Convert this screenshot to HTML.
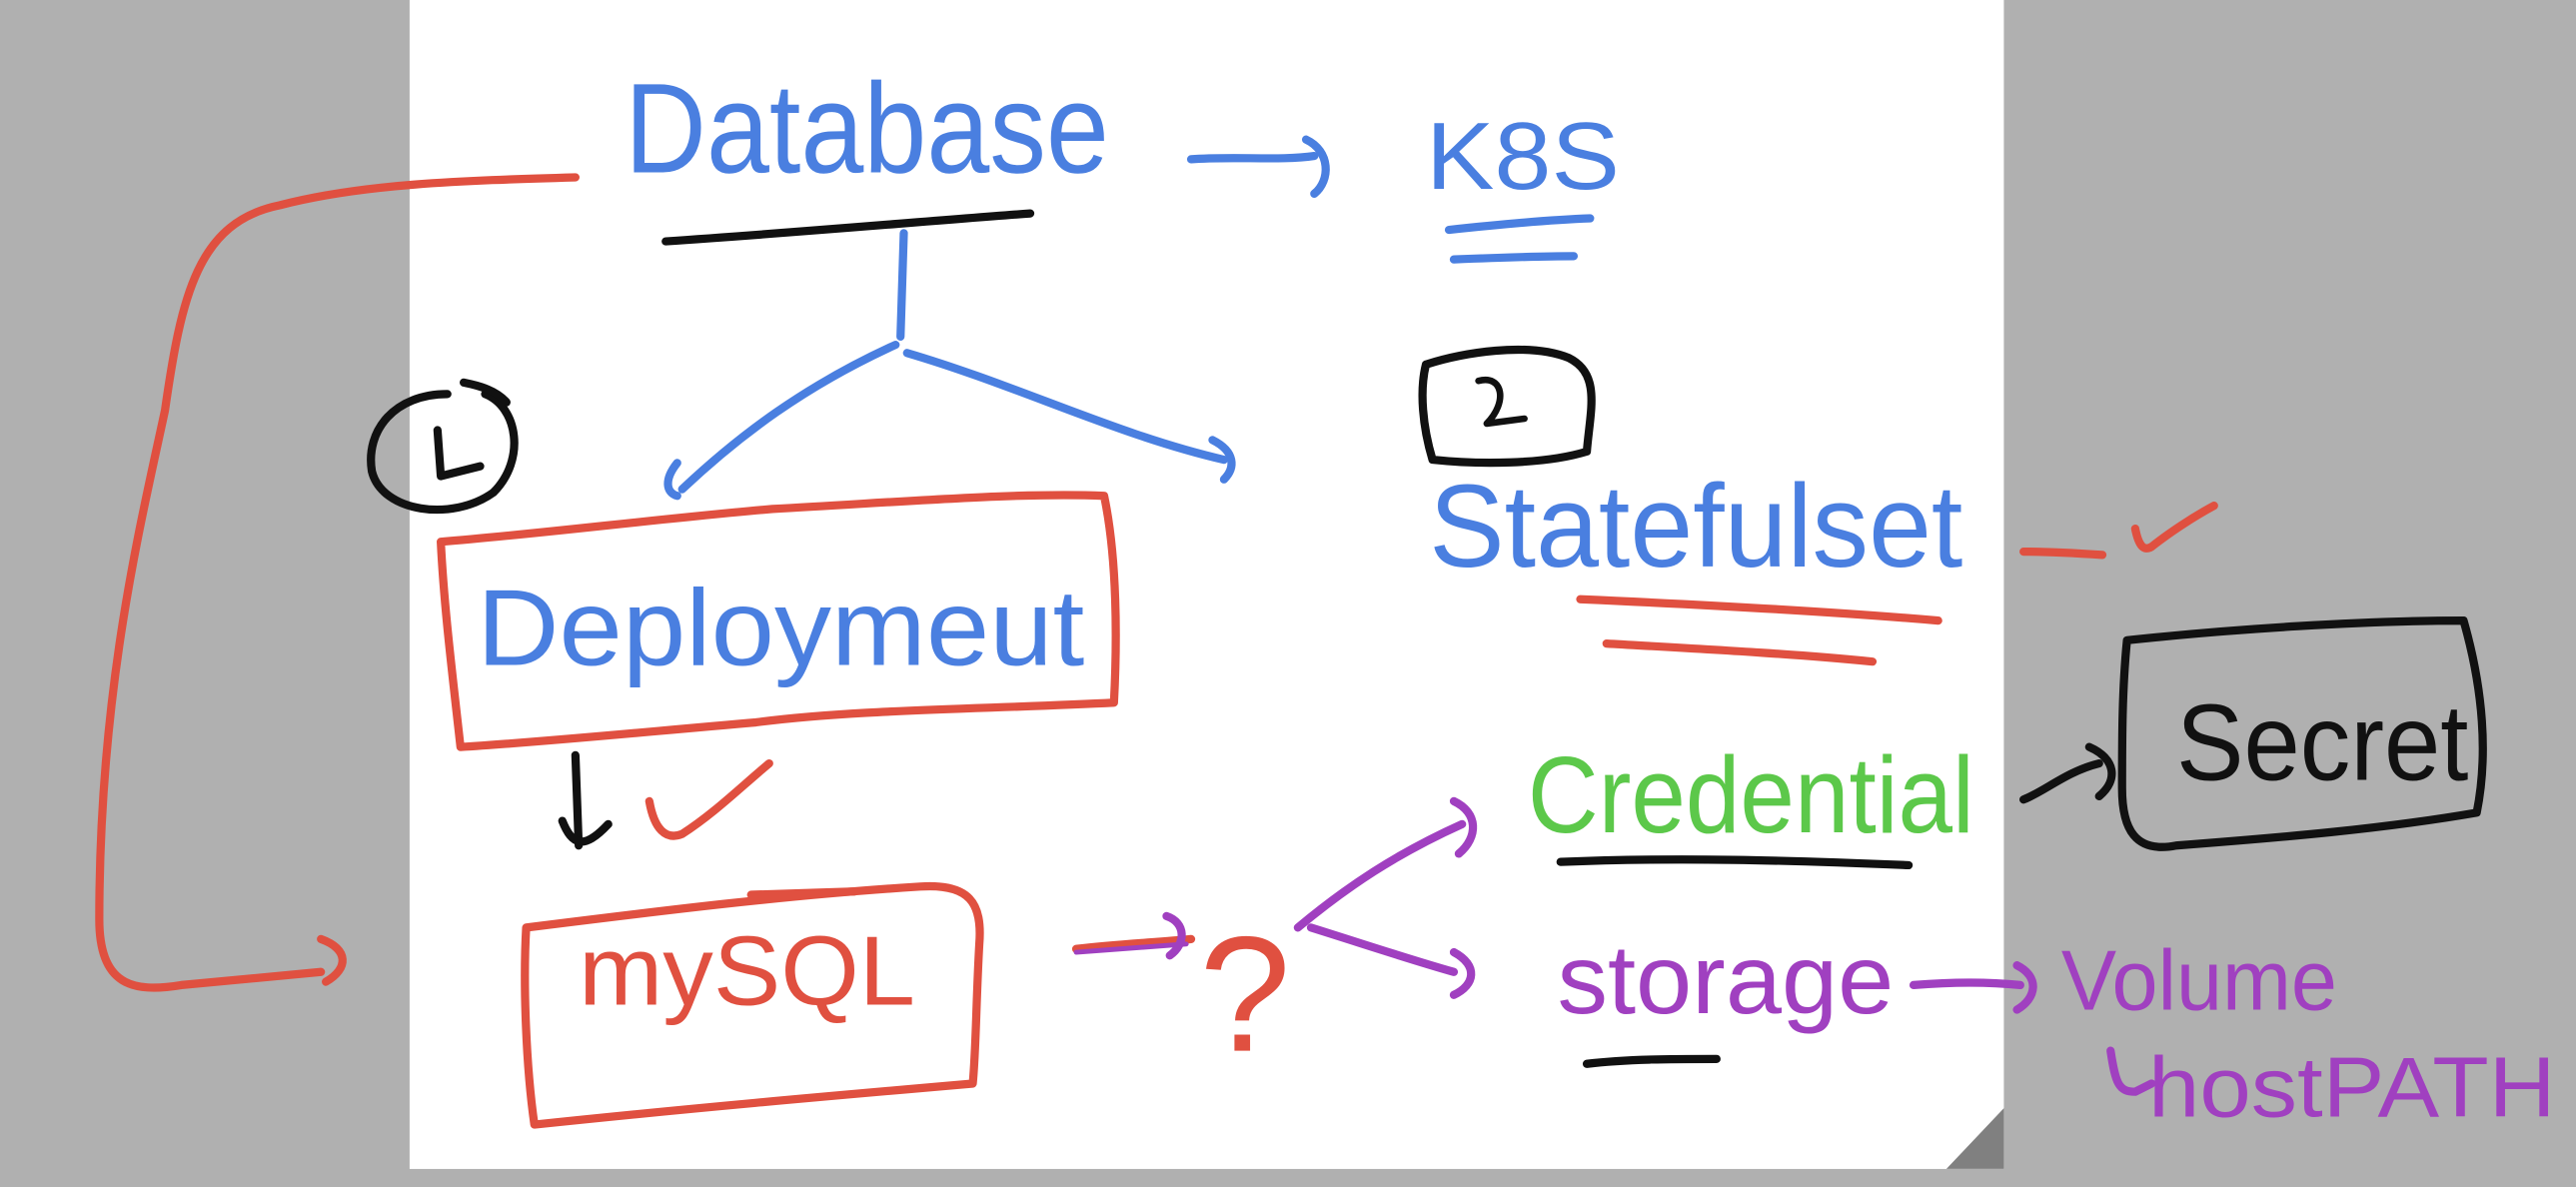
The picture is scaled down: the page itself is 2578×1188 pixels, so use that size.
<!DOCTYPE html>
<html><head><style>
html,body{margin:0;padding:0;background:#b0b0b0;}
svg{display:block}
text{font-family:"Liberation Sans",sans-serif;}
</style></head><body>
<svg width="2578" height="1188" viewBox="0 0 1568 723" xmlns="http://www.w3.org/2000/svg">
<rect width="1568" height="723" fill="#b0b0b0"/>
<rect x="249" y="0" width="971" height="712" fill="#ffffff"/>
<polygon points="1220,675 1220,712 1185,712" fill="#808080"/>
<g fill="none" stroke-linecap="round" stroke-linejoin="round" stroke-width="5">
<path d="M350,108 C280,110 220,112 170,125 C120,135 110,180 100,250 C85,320 60,420 60,560 C60,600 80,605 110,600 L195,592" stroke="#e05040"/>
<path d="M195,572 C212,578 212,590 198,598" stroke="#e05040"/>
<path d="M405,147 C480,142 560,135 627,130" stroke="#111"/>
<path d="M550,142 L548,205" stroke="#4a7fe0"/>
<path d="M545,210 C490,235 450,265 415,298" stroke="#4a7fe0"/>
<path d="M412,282 C404,292 405,300 412,302" stroke="#4a7fe0"/>
<path d="M552,215 C620,235 680,265 745,280" stroke="#4a7fe0"/>
<path d="M738,268 C752,275 752,285 745,292" stroke="#4a7fe0"/>
<path d="M725,97 C750,95 780,98 800,95" stroke="#4a7fe0"/>
<path d="M795,85 C810,92 810,110 800,118" stroke="#4a7fe0"/>
<path d="M882,140 C910,137 940,134 968,133" stroke="#4a7fe0"/>
<path d="M885,158 C910,157 935,156 958,156" stroke="#4a7fe0"/>
<path d="M272,240 C240,240 222,262 226,287 C232,312 275,318 300,300 C320,280 315,248 295,240" stroke="#111"/>
<path d="M282,233 C292,235 302,238 308,245" stroke="#111"/>
<path d="M266,262 L268,290 L292,284" stroke="#111"/>
<path d="M868,222 C890,215 930,208 955,218 C975,228 968,250 966,275 C940,283 900,283 872,280 C866,260 864,238 868,222" stroke="#111"/>
<path d="M900,232 C915,228 918,245 905,258 L928,255" stroke="#111" stroke-width="4"/>
<path d="M268,330 C330,325 400,316 470,310 C560,305 620,300 672,302 C680,340 680,390 678,428 C600,432 520,432 460,440 C390,446 330,452 280,455 C275,410 270,370 268,330" stroke="#e05040"/>
<path d="M350,460 L352,515" stroke="#111"/>
<path d="M342,500 C348,515 355,518 370,502" stroke="#111"/>
<path d="M395,488 C398,505 405,512 415,508 C435,495 450,480 468,465" stroke="#e05040"/>
<path d="M320,565 C400,555 480,545 560,540 C590,538 598,550 596,575 C594,610 594,640 592,660 C500,668 420,675 325,685 C320,650 318,600 320,565" stroke="#e05040"/>
<path d="M457,545 L520,543" stroke="#e05040"/>
<path d="M655,578 C680,575 705,574 725,572" stroke="#e05040"/>
<path d="M710,558 C722,562 722,575 712,582" stroke="#a040c0"/>
<path d="M655,580 L722,575" stroke="#a040c0" stroke-width="3"/>
<path d="M790,565 C820,540 850,520 890,502" stroke="#a040c0"/>
<path d="M885,488 C900,495 900,510 888,520" stroke="#a040c0"/>
<path d="M798,565 C830,575 860,585 885,592" stroke="#a040c0"/>
<path d="M885,580 C900,588 898,600 885,606" stroke="#a040c0"/>
<path d="M962,365 C1030,368 1110,372 1180,378" stroke="#e05040"/>
<path d="M978,392 C1030,395 1090,398 1140,403" stroke="#e05040"/>
<path d="M1232,336 C1250,336 1265,337 1280,338" stroke="#e05040"/>
<path d="M1300,322 C1302,332 1305,336 1310,333 C1320,325 1335,315 1348,308" stroke="#e05040"/>
<path d="M950,525 C1020,522 1090,524 1162,527" stroke="#111"/>
<path d="M1232,487 C1245,482 1258,470 1278,465" stroke="#111"/>
<path d="M1272,455 C1288,462 1290,475 1278,485" stroke="#111"/>
<path d="M1295,390 C1360,383 1440,378 1500,378 C1512,420 1515,460 1508,495 C1450,505 1390,510 1325,515 C1300,520 1292,505 1292,480 C1292,450 1292,420 1295,390" stroke="#111"/>
<path d="M966,648 C990,645 1020,645 1045,645" stroke="#111"/>
<path d="M1165,600 C1190,598 1210,598 1230,600" stroke="#a040c0"/>
<path d="M1228,588 C1242,595 1240,608 1228,615" stroke="#a040c0"/>
<path d="M1285,640 C1288,660 1290,665 1300,665 L1310,660" stroke="#a040c0"/>
</g>
<text x="380" y="105" font-size="78" fill="#4a7fe0" textLength="295" lengthAdjust="spacingAndGlyphs">Database</text>
<text x="868" y="115" font-size="58" fill="#4a7fe0" textLength="118" lengthAdjust="spacingAndGlyphs">K8S</text>
<text x="870" y="345" font-size="72" fill="#4a7fe0" textLength="325" lengthAdjust="spacingAndGlyphs">Statefulset</text>
<text x="290" y="405" font-size="66" fill="#4a7fe0" textLength="370" lengthAdjust="spacingAndGlyphs">Deploymeut</text>
<text x="352" y="612" font-size="60" fill="#e05040" textLength="205" lengthAdjust="spacingAndGlyphs">mySQL</text>
<text x="730" y="640" font-size="100" fill="#e05040" font-weight="300">?</text>
<text x="930" y="507" font-size="66" fill="#5cc84a" textLength="272" lengthAdjust="spacingAndGlyphs">Credential</text>
<text x="948" y="617" font-size="60" fill="#a040c0" textLength="205" lengthAdjust="spacingAndGlyphs">storage</text>
<text x="1325" y="475" font-size="66" fill="#111" textLength="178" lengthAdjust="spacingAndGlyphs">Secret</text>
<text x="1255" y="615" font-size="52" fill="#a040c0" textLength="168" lengthAdjust="spacingAndGlyphs">Volume</text>
<text x="1308" y="680" font-size="52" fill="#a040c0" textLength="248" lengthAdjust="spacingAndGlyphs">hostPATH</text>
</svg>
</body></html>
